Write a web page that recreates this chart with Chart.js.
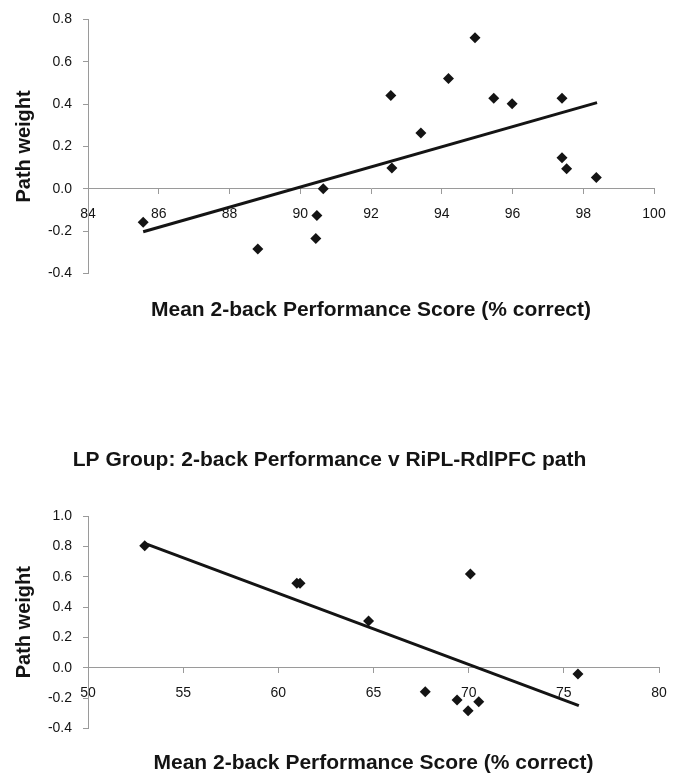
<!DOCTYPE html>
<html>
<head>
<meta charset="utf-8">
<script src="https://cdn.jsdelivr.net/npm/chart.js@4"></script>
<style>
  body { margin: 0; background: #fff; }
  #wrap { position: relative; width: 683px; height: 776px; overflow: hidden; }
  canvas { position: absolute; left: 0; }
</style>
</head>
<body>
<div id="wrap">
  <canvas id="topChart" width="683" height="330" style="top:0"></canvas>
  <canvas id="lpChart" width="683" height="376" style="top:400px"></canvas>
</div>
<script>
// upper panel
const topScore = [85.56, 88.8, 90.47, 90.44, 90.65, 92.56, 92.59, 93.41, 94.19, 94.94, 95.47, 95.99, 97.4, 97.4, 97.53, 98.37];
const topWeight = [-0.158, -0.285, -0.126, -0.235, 0.0, 0.441, 0.098, 0.263, 0.521, 0.713, 0.427, 0.402, 0.427, 0.146, 0.095, 0.053];
const topTrendX = [85.56, 98.39];
const topTrendY = [-0.203, 0.407];

// LP group panel
const lpScore = [52.98, 60.97, 61.14, 64.74, 70.09, 67.72, 69.39, 70.53, 69.97, 75.74];
const lpWeight = [0.804, 0.556, 0.556, 0.308, 0.618, -0.158, -0.213, -0.224, -0.283, -0.042];
const lpTrendX = [52.98, 75.79];
const lpTrendY = [0.82, -0.25];

const lpTitle = 'LP Group: 2-back Performance v RiPL-RdlPFC path';
const xTitle = 'Mean 2-back Performance Score (% correct)';
const yTitle = 'Path weight';

const FONT = '"Liberation Sans", Arial, sans-serif';
const INK = '#141414';
const AXIS = '#9a9a9a';

function pts(xs, ys) {
    return xs.map((x, i) => ({ x: x, y: ys[i] }));
}

function makeChart(id, opt) {
    return new Chart(document.getElementById(id), {
        type: 'scatter',
        data: {
            datasets: [{
                data: pts(opt.xs, opt.ys),
                pointStyle: 'rectRot',
                pointRadius: 5.5,
                pointHoverRadius: 5.5,
                backgroundColor: INK,
                borderColor: INK,
                borderWidth: 0
            }, {
                data: pts(opt.tx, opt.ty),
                showLine: true,
                pointRadius: 0,
                borderColor: INK,
                borderWidth: 3
            }]
        },
        options: {
            responsive: false,
            animation: false,
            layout: { padding: opt.padding },
            plugins: {
                legend: { display: false },
                tooltip: { enabled: false },
                title: opt.title ? {
                    display: true,
                    text: opt.title,
                    color: INK,
                    font: { family: FONT, size: 21, weight: 'bold' },
                    padding: opt.titlePad
                } : { display: false },
                subtitle: {
                    display: true,
                    text: xTitle,
                    position: 'bottom',
                    fullSize: false,
                    color: INK,
                    font: { family: FONT, size: 21, weight: 'bold' },
                    padding: opt.xTitlePad
                }
            },
            scales: {
                x: {
                    type: 'linear',
                    position: { y: 0 },
                    min: opt.xMin,
                    max: opt.xMax,
                    ticks: { stepSize: opt.xStep, color: INK, font: { family: FONT, size: 14 }, padding: 12.5 },
                    grid: { drawOnChartArea: false, drawTicks: true, tickLength: 5, color: AXIS },
                    border: { color: AXIS, width: 1 }
                },
                y: {
                    min: opt.yMin,
                    max: opt.yMax,
                    afterFit: (scale) => { scale.width = 88; },
                    ticks: {
                        stepSize: 0.2,
                        color: INK,
                        font: { family: FONT, size: 14 },
                        padding: 11,
                        callback: (v) => (Math.abs(v) < 1e-9 ? 0 : v).toFixed(1)
                    },
                    grid: { drawOnChartArea: false, drawTicks: true, tickLength: 5, color: AXIS },
                    border: { color: AXIS, width: 1 },
                    title: {
                        display: true,
                        text: yTitle,
                        color: INK,
                        font: { family: FONT, size: 20, weight: 'bold' },
                        padding: { top: 12, bottom: 0 }
                    }
                }
            }
        }
    });
}

makeChart('topChart', {
    xs: topScore, ys: topWeight, tx: topTrendX, ty: topTrendY,
    xMin: 84, xMax: 100, xStep: 2, yMin: -0.4, yMax: 0.8,
    padding: { top: 17, right: 29, bottom: 0, left: 0 },
    xTitlePad: { top: 24, bottom: 7.4 }
});

makeChart('lpChart', {
    xs: lpScore, ys: lpWeight, tx: lpTrendX, ty: lpTrendY,
    xMin: 50, xMax: 80, xStep: 5, yMin: -0.4, yMax: 1.0,
    padding: { top: 0, right: 24, bottom: 0, left: 0 },
    title: lpTitle,
    titlePad: { top: 47.4, bottom: 43.4 },
    xTitlePad: { top: 22, bottom: 0.4 }
});
</script>
</body>
</html>
